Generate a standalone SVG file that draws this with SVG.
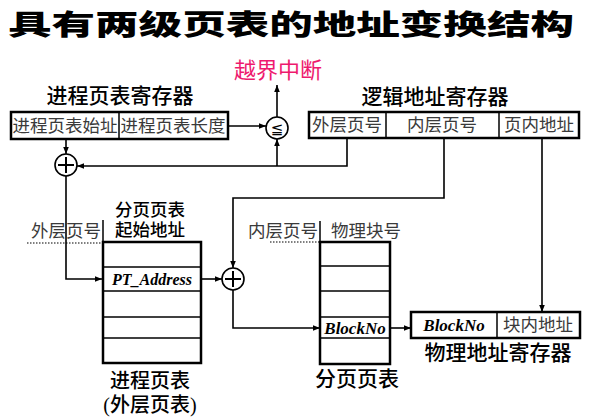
<svg xmlns="http://www.w3.org/2000/svg" width="605" height="420" viewBox="0 0 605 420">
<style>
.t{font-family:"Liberation Serif","Noto Sans CJK SC",serif;text-anchor:middle;dominant-baseline:central;}
.in{font-size:17.5px;fill:#3a3a3a;}
.hd{font-size:21px;fill:#000;font-weight:500;}
.em{font-family:"Liberation Serif",serif;font-weight:bold;font-style:italic;font-size:16px;text-anchor:middle;fill:#000;}
.bn{font-size:17px;}
.box{fill:#fff;stroke:#000;stroke-width:2.5;}
.div{stroke:#000;stroke-width:1.5;}
.ln{fill:none;stroke:#000;stroke-width:1.6;}
.dot{stroke:#000;stroke-width:1.2;stroke-dasharray:1.5 1.5;}
.cir{fill:#fff;stroke:#000;stroke-width:1.6;}
.pl{stroke:#000;stroke-width:2;}
</style>
<defs>
<marker id="ah" viewBox="0 0 10 10" refX="10" refY="5" markerWidth="7" markerHeight="7" markerUnits="userSpaceOnUse" orient="auto">
<path d="M0,1 L10,5 L0,9 z" fill="#000"/>
</marker>
</defs>
<text x="8" y="35" textLength="566" lengthAdjust="spacingAndGlyphs" style="font-family:'Noto Sans CJK SC',sans-serif;font-weight:900;font-size:28px;fill:#000;">具有两级页表的地址变换结构</text>
<text class="t" x="278" y="70" style="font-size:22px;fill:#ee1a6e;">越界中断</text>

<g id="connectors">
<path class="ln" d="M66,139 V154" marker-end="url(#ah)"/>
<path class="ln" d="M228,126 H266" marker-end="url(#ah)"/>
<path class="ln" d="M277,117 V85" marker-end="url(#ah)"/>
<path class="ln" d="M347,138 V166 H77" marker-end="url(#ah)"/>
<path class="ln" d="M277,166 V139" marker-end="url(#ah)"/>
<path class="ln" d="M66,176 V279 H102" marker-end="url(#ah)"/>
<path class="ln" d="M201,279 H222" marker-end="url(#ah)"/>
<path class="ln" d="M444,138 V198 H233 V268" marker-end="url(#ah)"/>
<path class="ln" d="M233,290 V328 H320" marker-end="url(#ah)"/>
<path class="ln" d="M390,328 H411" marker-end="url(#ah)"/>
<path class="ln" d="M542,138 V312" marker-end="url(#ah)"/>
<line class="dot" x1="27" y1="243" x2="102" y2="243"/>
<line class="dot" x1="270" y1="242" x2="320" y2="242"/>
<line class="div" x1="103" y1="220" x2="103" y2="242"/>
<line class="div" x1="320" y1="221" x2="320" y2="242"/>
</g>

<g id="ptreg">
<text class="t hd" x="120" y="96">进程页表寄存器</text>
<rect class="box" x="11" y="112" width="217" height="27"/>
<line class="div" x1="119" y1="112" x2="119" y2="139"/>
<text class="t in" x="65" y="126">进程页表始址</text>
<text class="t in" x="173" y="126">进程页表长度</text>
</g>

<g id="comparator">
<circle class="cir" cx="277" cy="128" r="11"/>
<text class="t" x="277" y="129" style="font-family:'DejaVu Sans',sans-serif;font-size:15px;">≦</text>
</g>

<g id="logreg">
<text class="t hd" x="435" y="97">逻辑地址寄存器</text>
<rect class="box" x="309" y="112" width="270" height="26"/>
<line class="div" x1="386" y1="112" x2="386" y2="138"/>
<line class="div" x1="499" y1="112" x2="499" y2="138"/>
<text class="t in" x="347" y="125">外层页号</text>
<text class="t in" x="442" y="125">内层页号</text>
<text class="t in" x="539" y="125">页内地址</text>
</g>

<g id="add1">
<circle class="cir" cx="66" cy="165" r="11"/>
<line class="pl" x1="58" y1="165" x2="74" y2="165"/>
<line class="pl" x1="66" y1="157" x2="66" y2="173"/>
</g>

<g id="outertable">
<text class="t in" x="66" y="231">外层页号</text>
<text class="t" x="150" y="210" style="font-size:17.5px;font-weight:500;">分页页表</text>
<text class="t" x="150" y="230" style="font-size:17.5px;font-weight:500;">起始地址</text>
<rect class="box" x="103" y="242" width="98" height="121"/>
<line class="div" x1="103" y1="267" x2="201" y2="267"/>
<line class="div" x1="103" y1="291" x2="201" y2="291"/>
<line class="div" x1="103" y1="317" x2="201" y2="317"/>
<line class="div" x1="103" y1="338" x2="201" y2="338"/>
<text class="em" x="152" y="285">PT_Address</text>
<text class="t hd" x="150" y="381" style="font-size:20px;">进程页表</text>
<text class="t hd" x="150" y="405" style="font-size:20px;">(外层页表)</text>
</g>

<g id="add2">
<circle class="cir" cx="233" cy="279" r="11"/>
<line class="pl" x1="225" y1="279" x2="241" y2="279"/>
<line class="pl" x1="233" y1="271" x2="233" y2="287"/>
</g>

<g id="innertable">
<text class="t in" x="283" y="231">内层页号</text>
<text class="t in" x="366" y="231">物理块号</text>
<rect class="box" x="320" y="242" width="70" height="122"/>
<line class="div" x1="320" y1="266" x2="390" y2="266"/>
<line class="div" x1="320" y1="291" x2="390" y2="291"/>
<line class="div" x1="320" y1="317" x2="390" y2="317"/>
<line class="div" x1="320" y1="338" x2="390" y2="338"/>
<text class="em bn" x="355" y="334">BlockNo</text>
<text class="t hd" x="357" y="379">分页页表</text>
</g>

<g id="physreg">
<rect class="box" x="411" y="312" width="169" height="26"/>
<line class="div" x1="497" y1="312" x2="497" y2="338"/>
<text class="em bn" x="454" y="331">BlockNo</text>
<text class="t in" x="538" y="325">块内地址</text>
<text class="t hd" x="498" y="353">物理地址寄存器</text>
</g>
</svg>
